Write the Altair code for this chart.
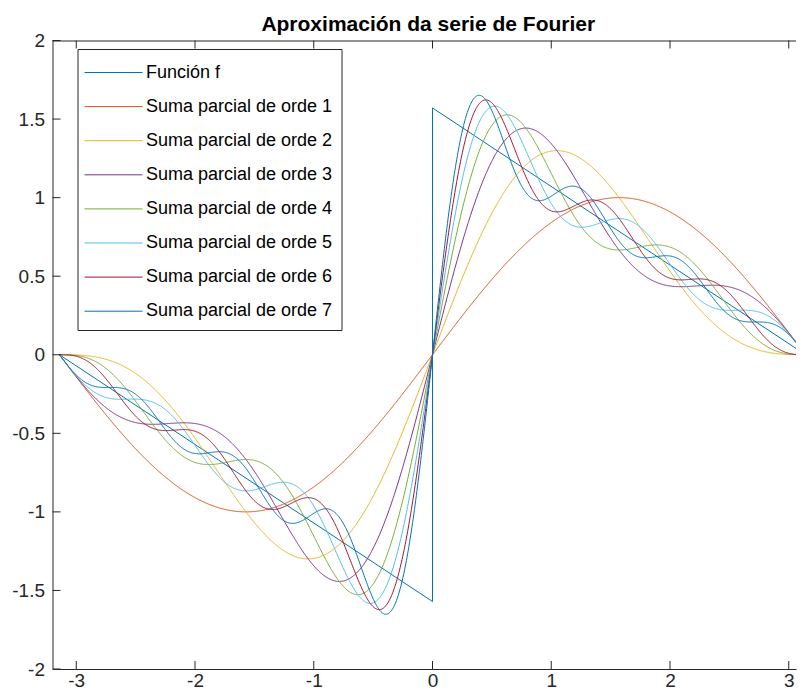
import numpy as np
import pandas as pd
import altair as alt

# ---- data ----
series_names = [
    "Función f",
    "Suma parcial de orde 1",
    "Suma parcial de orde 2",
    "Suma parcial de orde 3",
    "Suma parcial de orde 4",
    "Suma parcial de orde 5",
    "Suma parcial de orde 6",
    "Suma parcial de orde 7",
]
series_colors = ["#0072BD", "#D95319", "#EDB120", "#7E2F8E",
                 "#77AC30", "#4DBEEE", "#A2142F", "#0072BD"]

# function f: break points of the sawtooth (jump at 0 from -1.57 to 1.57)
f_x = [-3.1416, 0.0, 0.0, 3.1416]
f_y = [0.0, -1.5708, 1.5708, 0.0]

# Fourier sine coefficients of each added term (order 1 peaks at 1, ...)
sine_coefficients = [1.0, 0.5, 0.3333, 0.25, 0.2, 0.1667, 0.1429]

x_ticks = [-3, -2, -1, 0, 1, 2, 3]
y_ticks = [-2, -1.5, -1, -0.5, 0, 0.5, 1, 1.5, 2]

title_text = "Aproximación da serie de Fourier"

# ---- build table ----
rows = []
for i, (xv, yv) in enumerate(zip(f_x, f_y)):
    rows.append({"serie": series_names[0], "x": xv, "y": yv, "idx": i})

grid = np.linspace(-np.pi, np.pi, 1201)
partial = np.zeros_like(grid)
for n, b in enumerate(sine_coefficients, start=1):
    partial = partial + b * np.sin(n * grid)
    for i, (xv, yv) in enumerate(zip(grid, partial)):
        rows.append({"serie": series_names[n], "x": float(xv), "y": float(yv), "idx": i})
df = pd.DataFrame(rows)

AX = "#262626"
FONT = "Liberation Sans"
TICK = 8

xs = alt.Scale(domain=[-3.2, 3.061], nice=False, zero=False)
ys = alt.Scale(domain=[-2, 2], nice=False, zero=False)

xaxis = alt.Axis(values=x_ticks, title=None, labelExpr="'' + datum.value",
                 ticks=False, tickSize=0, grid=False, labelPadding=2.5,
                 labelFontSize=19, labelFont=FONT, labelColor=AX,
                 domainColor=AX, domainWidth=1)
yaxis = alt.Axis(values=y_ticks, title=None, labelExpr="'' + datum.value",
                 ticks=False, tickSize=0, grid=False, labelPadding=8,
                 labelFontSize=19, labelFont=FONT, labelColor=AX,
                 domainColor=AX, domainWidth=1)

lines = alt.Chart(df).mark_line(strokeWidth=1, clip=True).encode(
    x=alt.X("x:Q", scale=xs, axis=xaxis),
    y=alt.Y("y:Q", scale=ys, axis=yaxis),
    color=alt.Color("serie:N", sort=series_names,
                    scale=alt.Scale(domain=series_names, range=series_colors),
                    legend=alt.Legend(
                        title=None, orient="none", legendX=25, legendY=8.5,
                        symbolType="M-2.0714,0H2.0714", symbolSize=784,
                        symbolStrokeWidth=1, symbolOffset=12.5,
                        labelOffset=18, labelFont=FONT, labelFontSize=18,
                        labelColor="#000000", labelLimit=400,
                        rowPadding=10.1, padding=9,
                        strokeColor=AX, fillColor="white")),
    order=alt.Order("idx:Q"),
)

xt_df = pd.DataFrame({"t": x_ticks})
yt_df = pd.DataFrame({"t": y_ticks})

top_ticks = alt.Chart(xt_df).mark_rule(color=AX, strokeWidth=1).encode(
    x=alt.X("t:Q", scale=xs, axis=xaxis), y=alt.value(0), y2=alt.value(TICK))
bottom_ticks = alt.Chart(xt_df).mark_rule(color=AX, strokeWidth=1).encode(
    x=alt.X("t:Q", scale=xs, axis=xaxis),
    y=alt.value("height"), y2=alt.value({"expr": "height - 8"}))
left_ticks = alt.Chart(yt_df).mark_rule(color=AX, strokeWidth=1).encode(
    y=alt.Y("t:Q", scale=ys, axis=yaxis), x=alt.value(0), x2=alt.value(TICK))
top_frame = alt.Chart(pd.DataFrame({"t": [0]})).mark_rule(color=AX, strokeWidth=1).encode(
    x=alt.value(0), x2=alt.value("width"), y=alt.value(0.5))

chart = alt.layer(lines, top_ticks, bottom_ticks, left_ticks, top_frame).properties(
    width=789, height=683,
    background="white",
    title=alt.TitleParams(title_text, font=FONT, fontSize=21, fontWeight="bold",
                          color="#000000", anchor="middle", offset=-3.5, dx=4),
    padding={"left": 3.5, "top": 5.5, "right": 0, "bottom": 0},
    autosize=alt.AutoSizeParams(type="fit", contains="padding"),
).configure_view(stroke=None)

chart.save("out.html", embed_options={"renderer": "svg", "actions": False})
